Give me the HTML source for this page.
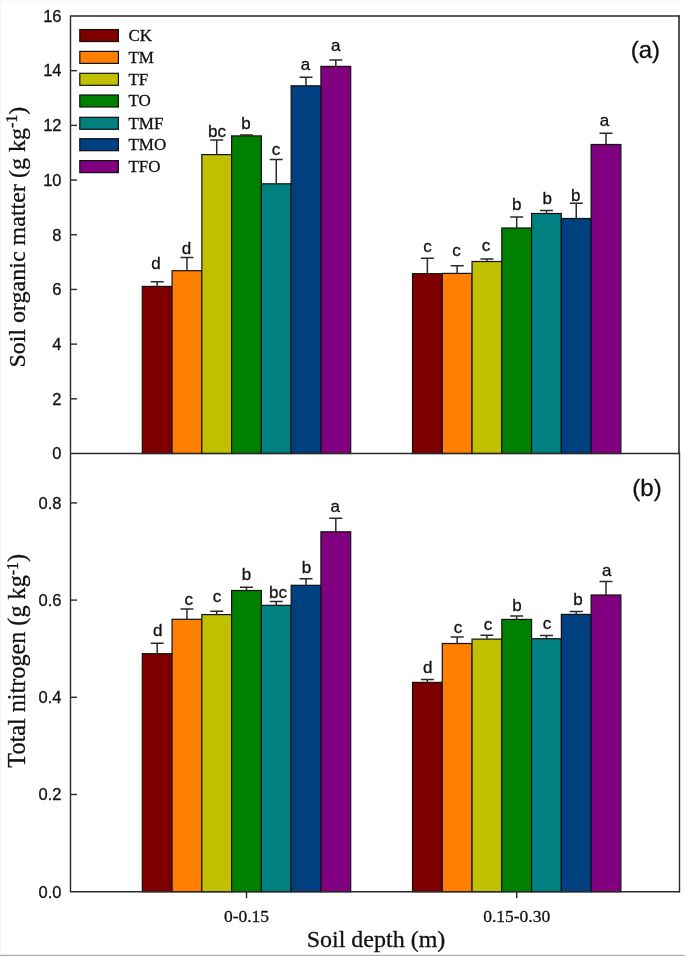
<!DOCTYPE html>
<html><head><meta charset="utf-8"><style>
html,body{margin:0;padding:0;background:#fff;}
svg{display:block;filter:blur(0.35px);}
</style></head><body>
<svg width="685" height="956" viewBox="0 0 685 956" fill="#111"><style>text{stroke:#111;stroke-width:0.3px;}</style>
<rect x="142.30" y="286.40" width="29.77" height="167.10" fill="#800000" stroke="#111" stroke-width="1.2"/>
<rect x="172.07" y="270.70" width="29.77" height="182.80" fill="#ff8000" stroke="#111" stroke-width="1.2"/>
<rect x="201.84" y="154.60" width="29.77" height="298.90" fill="#c0c000" stroke="#111" stroke-width="1.2"/>
<rect x="231.61" y="135.90" width="29.77" height="317.60" fill="#008000" stroke="#111" stroke-width="1.2"/>
<rect x="261.38" y="183.80" width="29.77" height="269.70" fill="#008080" stroke="#111" stroke-width="1.2"/>
<rect x="291.15" y="85.80" width="29.77" height="367.70" fill="#004080" stroke="#111" stroke-width="1.2"/>
<rect x="320.92" y="66.40" width="29.77" height="387.10" fill="#800080" stroke="#111" stroke-width="1.2"/>
<path d="M157.19 286.40V281.80M150.69 281.80H163.69" stroke="#2a2a2a" stroke-width="1.5" fill="none"/>
<path d="M186.96 270.70V257.50M180.46 257.50H193.46" stroke="#2a2a2a" stroke-width="1.5" fill="none"/>
<path d="M216.72 154.60V140.00M210.22 140.00H223.22" stroke="#2a2a2a" stroke-width="1.5" fill="none"/>
<path d="M246.50 135.90V135.00M240.00 135.00H253.00" stroke="#2a2a2a" stroke-width="1.5" fill="none"/>
<path d="M276.26 183.80V159.60M269.76 159.60H282.76" stroke="#2a2a2a" stroke-width="1.5" fill="none"/>
<path d="M306.03 85.80V77.30M299.53 77.30H312.53" stroke="#2a2a2a" stroke-width="1.5" fill="none"/>
<path d="M335.81 66.40V60.00M329.31 60.00H342.31" stroke="#2a2a2a" stroke-width="1.5" fill="none"/>
<rect x="412.50" y="273.70" width="29.77" height="179.80" fill="#800000" stroke="#111" stroke-width="1.2"/>
<rect x="442.27" y="273.40" width="29.77" height="180.10" fill="#ff8000" stroke="#111" stroke-width="1.2"/>
<rect x="472.04" y="261.50" width="29.77" height="192.00" fill="#c0c000" stroke="#111" stroke-width="1.2"/>
<rect x="501.81" y="228.00" width="29.77" height="225.50" fill="#008000" stroke="#111" stroke-width="1.2"/>
<rect x="531.58" y="213.50" width="29.77" height="240.00" fill="#008080" stroke="#111" stroke-width="1.2"/>
<rect x="561.35" y="218.50" width="29.77" height="235.00" fill="#004080" stroke="#111" stroke-width="1.2"/>
<rect x="591.12" y="144.50" width="29.77" height="309.00" fill="#800080" stroke="#111" stroke-width="1.2"/>
<path d="M427.38 273.70V258.20M420.88 258.20H433.88" stroke="#2a2a2a" stroke-width="1.5" fill="none"/>
<path d="M457.15 273.40V265.80M450.65 265.80H463.65" stroke="#2a2a2a" stroke-width="1.5" fill="none"/>
<path d="M486.93 261.50V259.00M480.43 259.00H493.43" stroke="#2a2a2a" stroke-width="1.5" fill="none"/>
<path d="M516.70 228.00V216.90M510.20 216.90H523.20" stroke="#2a2a2a" stroke-width="1.5" fill="none"/>
<path d="M546.47 213.50V210.60M539.97 210.60H552.97" stroke="#2a2a2a" stroke-width="1.5" fill="none"/>
<path d="M576.24 218.50V203.30M569.74 203.30H582.74" stroke="#2a2a2a" stroke-width="1.5" fill="none"/>
<path d="M606.00 144.50V133.30M599.50 133.30H612.50" stroke="#2a2a2a" stroke-width="1.5" fill="none"/>
<rect x="142.30" y="653.70" width="29.77" height="238.00" fill="#800000" stroke="#111" stroke-width="1.2"/>
<rect x="172.07" y="619.30" width="29.77" height="272.40" fill="#ff8000" stroke="#111" stroke-width="1.2"/>
<rect x="201.84" y="614.60" width="29.77" height="277.10" fill="#c0c000" stroke="#111" stroke-width="1.2"/>
<rect x="231.61" y="590.50" width="29.77" height="301.20" fill="#008000" stroke="#111" stroke-width="1.2"/>
<rect x="261.38" y="605.30" width="29.77" height="286.40" fill="#008080" stroke="#111" stroke-width="1.2"/>
<rect x="291.15" y="585.30" width="29.77" height="306.40" fill="#004080" stroke="#111" stroke-width="1.2"/>
<rect x="320.92" y="531.80" width="29.77" height="359.90" fill="#800080" stroke="#111" stroke-width="1.2"/>
<path d="M157.19 653.70V643.20M150.69 643.20H163.69" stroke="#2a2a2a" stroke-width="1.5" fill="none"/>
<path d="M186.96 619.30V609.00M180.46 609.00H193.46" stroke="#2a2a2a" stroke-width="1.5" fill="none"/>
<path d="M216.72 614.60V611.20M210.22 611.20H223.22" stroke="#2a2a2a" stroke-width="1.5" fill="none"/>
<path d="M246.50 590.50V587.20M240.00 587.20H253.00" stroke="#2a2a2a" stroke-width="1.5" fill="none"/>
<path d="M276.26 605.30V601.50M269.76 601.50H282.76" stroke="#2a2a2a" stroke-width="1.5" fill="none"/>
<path d="M306.03 585.30V578.70M299.53 578.70H312.53" stroke="#2a2a2a" stroke-width="1.5" fill="none"/>
<path d="M335.81 531.80V518.30M329.31 518.30H342.31" stroke="#2a2a2a" stroke-width="1.5" fill="none"/>
<rect x="412.50" y="682.40" width="29.77" height="209.30" fill="#800000" stroke="#111" stroke-width="1.2"/>
<rect x="442.27" y="643.50" width="29.77" height="248.20" fill="#ff8000" stroke="#111" stroke-width="1.2"/>
<rect x="472.04" y="639.10" width="29.77" height="252.60" fill="#c0c000" stroke="#111" stroke-width="1.2"/>
<rect x="501.81" y="619.40" width="29.77" height="272.30" fill="#008000" stroke="#111" stroke-width="1.2"/>
<rect x="531.58" y="638.70" width="29.77" height="253.00" fill="#008080" stroke="#111" stroke-width="1.2"/>
<rect x="561.35" y="614.40" width="29.77" height="277.30" fill="#004080" stroke="#111" stroke-width="1.2"/>
<rect x="591.12" y="595.00" width="29.77" height="296.70" fill="#800080" stroke="#111" stroke-width="1.2"/>
<path d="M427.38 682.40V679.60M420.88 679.60H433.88" stroke="#2a2a2a" stroke-width="1.5" fill="none"/>
<path d="M457.15 643.50V636.90M450.65 636.90H463.65" stroke="#2a2a2a" stroke-width="1.5" fill="none"/>
<path d="M486.93 639.10V635.30M480.43 635.30H493.43" stroke="#2a2a2a" stroke-width="1.5" fill="none"/>
<path d="M516.70 619.40V616.00M510.20 616.00H523.20" stroke="#2a2a2a" stroke-width="1.5" fill="none"/>
<path d="M546.47 638.70V635.50M539.97 635.50H552.97" stroke="#2a2a2a" stroke-width="1.5" fill="none"/>
<path d="M576.24 614.40V611.50M569.74 611.50H582.74" stroke="#2a2a2a" stroke-width="1.5" fill="none"/>
<path d="M606.00 595.00V581.40M599.50 581.40H612.50" stroke="#2a2a2a" stroke-width="1.5" fill="none"/>
<g font-family='"Liberation Sans", sans-serif' font-size="17">
<text x="155.90" y="268.90" text-anchor="middle">d</text>
<text x="186.60" y="253.50" text-anchor="middle">d</text>
<text x="217.10" y="136.70" text-anchor="middle">bc</text>
<text x="245.90" y="129.10" text-anchor="middle">b</text>
<text x="276.00" y="155.30" text-anchor="middle">c</text>
<text x="305.40" y="69.90" text-anchor="middle">a</text>
<text x="335.70" y="50.50" text-anchor="middle">a</text>
<text x="427.50" y="252.30" text-anchor="middle">c</text>
<text x="456.50" y="256.30" text-anchor="middle">c</text>
<text x="486.00" y="250.90" text-anchor="middle">c</text>
<text x="516.80" y="209.50" text-anchor="middle">b</text>
<text x="547.20" y="203.70" text-anchor="middle">b</text>
<text x="575.80" y="200.70" text-anchor="middle">b</text>
<text x="604.50" y="126.10" text-anchor="middle">a</text>
<text x="157.80" y="635.70" text-anchor="middle">d</text>
<text x="188.80" y="604.90" text-anchor="middle">c</text>
<text x="217.10" y="602.10" text-anchor="middle">c</text>
<text x="246.40" y="579.50" text-anchor="middle">b</text>
<text x="278.10" y="597.50" text-anchor="middle">bc</text>
<text x="306.60" y="572.70" text-anchor="middle">b</text>
<text x="335.30" y="512.30" text-anchor="middle">a</text>
<text x="427.80" y="673.10" text-anchor="middle">d</text>
<text x="457.90" y="632.50" text-anchor="middle">c</text>
<text x="488.00" y="629.90" text-anchor="middle">c</text>
<text x="517.10" y="610.50" text-anchor="middle">b</text>
<text x="547.00" y="628.50" text-anchor="middle">c</text>
<text x="578.00" y="604.90" text-anchor="middle">b</text>
<text x="606.70" y="575.50" text-anchor="middle">a</text>
</g>
<path d="M679.0 15.3V453.5" stroke="#2a2a2a" stroke-width="1.6" fill="none"/>
<path d="M679.5 452.8V892.4000000000001" stroke="#2a2a2a" stroke-width="1.4" fill="none"/>
<path d="M679.5 891.7H70.5V16.0H679.6 M70.5 453.5H679.5" stroke="#2a2a2a" stroke-width="1.4" fill="none" stroke-linejoin="miter"/>
<g font-family='"Liberation Sans", sans-serif' font-size="16.5" text-anchor="end">
<text x="61.5" y="459.30">0</text>
<path d="M70.5 398.81h6.5" stroke="#2a2a2a" stroke-width="1.4"/>
<text x="61.5" y="404.61">2</text>
<path d="M70.5 344.12h6.5" stroke="#2a2a2a" stroke-width="1.4"/>
<text x="61.5" y="349.93">4</text>
<path d="M70.5 289.44h6.5" stroke="#2a2a2a" stroke-width="1.4"/>
<text x="61.5" y="295.24">6</text>
<path d="M70.5 234.75h6.5" stroke="#2a2a2a" stroke-width="1.4"/>
<text x="61.5" y="240.55">8</text>
<path d="M70.5 180.06h6.5" stroke="#2a2a2a" stroke-width="1.4"/>
<text x="61.5" y="185.86">10</text>
<path d="M70.5 125.38h6.5" stroke="#2a2a2a" stroke-width="1.4"/>
<text x="61.5" y="131.18">12</text>
<path d="M70.5 70.69h6.5" stroke="#2a2a2a" stroke-width="1.4"/>
<text x="61.5" y="76.49">14</text>
<text x="61.5" y="21.80">16</text>
<text x="61.5" y="897.50">0.0</text>
<path d="M70.5 794.50h6.5" stroke="#2a2a2a" stroke-width="1.4"/>
<text x="61.5" y="800.30">0.2</text>
<path d="M70.5 697.30h6.5" stroke="#2a2a2a" stroke-width="1.4"/>
<text x="61.5" y="703.10">0.4</text>
<path d="M70.5 600.10h6.5" stroke="#2a2a2a" stroke-width="1.4"/>
<text x="61.5" y="605.90">0.6</text>
<path d="M70.5 502.90h6.5" stroke="#2a2a2a" stroke-width="1.4"/>
<text x="61.5" y="508.70">0.8</text>
</g>
<path d="M246.50 891.7v6.5" stroke="#2a2a2a" stroke-width="1.4"/>
<path d="M516.69 891.7v6.5" stroke="#2a2a2a" stroke-width="1.4"/>
<g font-family='"Liberation Serif", serif'>
<text x="246.50" y="921.5" text-anchor="middle" font-size="17.5">0-0.15</text>
<text x="516.69" y="921.5" text-anchor="middle" font-size="17.5">0.15-0.30</text>
<text x="376" y="947" text-anchor="middle" font-size="24">Soil depth (m)</text>
<text transform="translate(24.5 237.2) rotate(-90)" text-anchor="middle" font-size="24">Soil organic matter (g kg<tspan dy="-7.5" font-size="16">-1</tspan><tspan dy="7.5">)</tspan></text>
<text transform="translate(25 660.8) rotate(-90)" text-anchor="middle" font-size="24.2">Total nitrogen (g kg<tspan dy="-7.5" font-size="16">-1</tspan><tspan dy="7.5">)</tspan></text>
<text x="128.4" y="40.95" font-size="17">CK</text>
<text x="128.4" y="62.80" font-size="17">TM</text>
<text x="128.4" y="84.70" font-size="17">TF</text>
<text x="128.4" y="106.40" font-size="17">TO</text>
<text x="128.4" y="128.70" font-size="17">TMF</text>
<text x="128.4" y="150.10" font-size="17">TMO</text>
<text x="128.4" y="172.00" font-size="17">TFO</text>
</g>
<g font-family='"Liberation Sans", sans-serif' font-size="24" text-anchor="middle">
<text x="645.4" y="58">(a)</text>
<text x="647" y="496.2">(b)</text>
</g>
<rect x="79.8" y="29.55" width="38.6" height="12" fill="#800000" stroke="#111" stroke-width="1.2"/>
<rect x="79.8" y="51.40" width="38.6" height="12" fill="#ff8000" stroke="#111" stroke-width="1.2"/>
<rect x="79.8" y="73.30" width="38.6" height="12" fill="#c0c000" stroke="#111" stroke-width="1.2"/>
<rect x="79.8" y="95.00" width="38.6" height="12" fill="#008000" stroke="#111" stroke-width="1.2"/>
<rect x="79.8" y="117.30" width="38.6" height="12" fill="#008080" stroke="#111" stroke-width="1.2"/>
<rect x="79.8" y="138.70" width="38.6" height="12" fill="#004080" stroke="#111" stroke-width="1.2"/>
<rect x="79.8" y="160.60" width="38.6" height="12" fill="#800080" stroke="#111" stroke-width="1.2"/>
<rect x="0" y="955" width="685" height="1" fill="#a8a8a8"/>
<rect x="0" y="954" width="685" height="1" fill="#f2f2f2"/>
<rect x="0" y="0" width="1" height="954" fill="#f6f6f6"/>
<rect x="1" y="0" width="1" height="954" fill="#fbfbfb"/>
<rect x="0" y="0" width="685" height="1" fill="#f8f8f8"/>
</svg>
</body></html>
